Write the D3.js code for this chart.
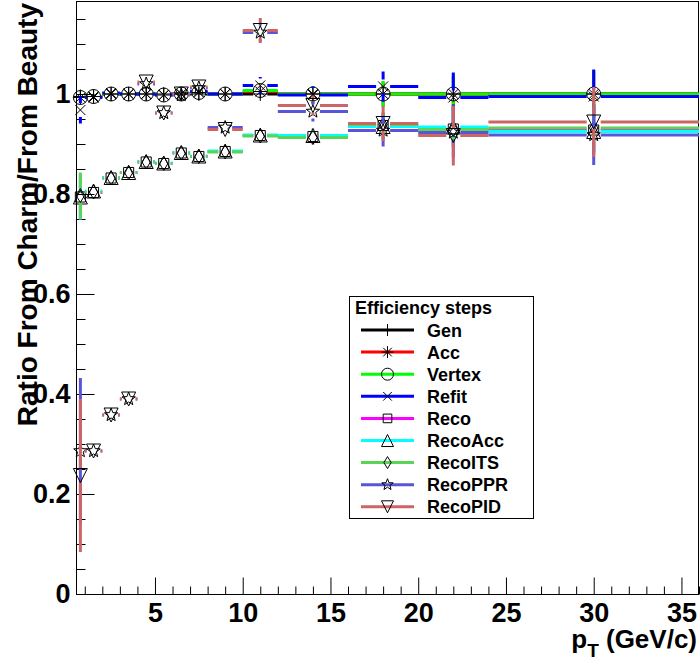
<!DOCTYPE html>
<html>
<head>
<meta charset="utf-8">
<script src="https://cdnjs.cloudflare.com/ajax/libs/d3/7.8.5/d3.min.js"></script>
<style>
body { margin: 0; background: #fff; }
svg text { font-family: "Liberation Sans", Arial, Helvetica, sans-serif; font-weight: bold; fill: #000; }
</style>
</head>
<body>
<div id="vis"></div>
<script>

// pT bins (centre and half width, GeV/c)
var ptCenters    = [0.75, 1.5, 2.5, 3.5, 4.5, 5.5, 6.5, 7.5, 9, 11, 14, 18, 22, 30];
var ptHalfWidths = [0.25, 0.5, 0.5, 0.5, 0.5, 0.5, 0.5, 0.5, 1, 1, 2, 2, 2, 6];

var stepNames = ["Gen", "Acc", "Vertex", "Refit", "Reco", "RecoAcc", "RecoITS", "RecoPPR", "RecoPID"];

// ratio charm / beauty for each efficiency step
var genRatio     = [0.995, 0.995, 1.0, 1.0, 1.0, 1.0, 1.0, 1.0, 1.0, 1.0, 1.0, 1.0, 1.0, 1.0];
var accRatio     = [0.993, 0.995, 1.0, 1.0, 1.0, 0.998, 1.0, 1.003, 1.0, 1.005, 1.0, 1.0, 1.0, 1.0];
var vertexRatio  = [0.993, 0.995, 1.0, 1.0, 1.0, 0.998, 1.0, 1.003, 1.0, 1.007, 1.0, 1.0, 1.0, 1.0];
var refitRatio   = [0.968, 0.993, 1.002, 1.0, 1.0, 0.998, 1.0, 1.005, 1.0, 1.017, 0.998, 1.015, 0.993, 0.995];
var recoRatio    = [0.794, 0.803, 0.832, 0.843, 0.864, 0.861, 0.882, 0.875, 0.885, 0.917, 0.915, 0.937, 0.930, 0.928];
var recoAccRatio = [0.794, 0.806, 0.833, 0.843, 0.865, 0.862, 0.883, 0.876, 0.886, 0.918, 0.917, 0.935, 0.934, 0.925];
var recoITSRatio = [0.797, 0.804, 0.832, 0.843, 0.864, 0.861, 0.882, 0.875, 0.884, 0.916, 0.913, 0.939, 0.929, 0.932];
var recoPPRRatio = [0.286, 0.286, 0.358, 0.39, 1.02, 0.962, 0.998, 1.012, 0.933, 1.123, 0.965, 0.927, 0.923, 0.918];
var recoPIDRatio = [0.237, 0.286, 0.358, 0.39, 1.024, 0.962, 1.0, 1.014, 0.929, 1.127, 0.977, 0.941, 0.917, 0.944];

// statistical errors
var genErr     = [0, 0, 0, 0, 0, 0, 0, 0, 0, 0, 0, 0, 0, 0];
var accErr     = [0.01, 0.006, 0.005, 0.005, 0.005, 0.005, 0.006, 0.006, 0.007, 0.01, 0.015, 0.025, 0.035, 0.045];
var vertexErr  = [0.012, 0.007, 0.006, 0.006, 0.006, 0.006, 0.007, 0.007, 0.008, 0.012, 0.016, 0.026, 0.04, 0.048];
var refitErr   = [0.027, 0.008, 0.007, 0.007, 0.007, 0.007, 0.008, 0.008, 0.009, 0.017, 0.017, 0.03, 0.05, 0.054];
var recoErr    = [0.045, 0.012, 0.008, 0.008, 0.008, 0.008, 0.009, 0.009, 0.009, 0.012, 0.015, 0.025, 0.035, 0.045];
var recoAccErr = [0.045, 0.012, 0.008, 0.008, 0.008, 0.008, 0.009, 0.009, 0.009, 0.012, 0.015, 0.025, 0.035, 0.045];
var recoITSErr = [0.046, 0.012, 0.008, 0.008, 0.008, 0.008, 0.009, 0.009, 0.009, 0.012, 0.015, 0.025, 0.035, 0.045];
var recoPPRErr = [0.146, 0.008, 0.008, 0.008, 0.01, 0.01, 0.01, 0.01, 0.01, 0.018, 0.02, 0.032, 0.05, 0.06];
var recoPIDErr = [0.153, 0.008, 0.008, 0.008, 0.01, 0.01, 0.01, 0.012, 0.012, 0.025, 0.02, 0.035, 0.06, 0.07];

var stepValues = [genRatio, accRatio, vertexRatio, refitRatio, recoRatio, recoAccRatio, recoITSRatio, recoPPRRatio, recoPIDRatio];
var stepErrors = [genErr, accErr, vertexErr, refitErr, recoErr, recoAccErr, recoITSErr, recoPPRErr, recoPIDErr];

var yTickValues = [0, 0.2, 0.4, 0.6, 0.8, 1];
var yTickLabels = ["0", "0.2", "0.4", "0.6", "0.8", "1"];
var xTickValues = [5, 10, 15, 20, 25, 30, 35];
var xTickLabels = ["5", "10", "15", "20", "25", "30", "35"];

// ROOT style colours and markers
var stepColors  = ["#000000", "#ff0000", "#00ff00", "#0000ff", "#ff00ff", "#00ffff", "#59d454", "#5954d8", "#cc6666"];
var stepMarkers = ["plus", "asterisk", "circle", "cross", "square", "triangle", "diamond", "star", "triangleDown"];

var svg = d3.select("#vis")
.append("svg")
.attr("width", 700)
.attr("height", 664);

var x = d3.scaleLinear().domain([0.5, 36]).range([76, 699]);
var y = d3.scaleLinear().domain([0, 1.184]).range([594, 2]);

// axes, ticks pointing into the frame
var minorY = d3.range(0, 1.19, 0.05).filter(function(d){ return Math.abs(d * 5 - Math.round(d * 5)) > 1e-6; });
var minorX = d3.range(1, 36.01, 1).filter(function(d){ return d % 5 !== 0; });

svg.append("g")
.attr("transform", "translate(76.5,0)")
.call(d3.axisLeft(y).tickValues(minorY).tickFormat("").tickSizeInner(-9).tickSizeOuter(0));

svg.append("g")
.attr("class", "yaxis")
.attr("transform", "translate(76.5,0)")
.call(d3.axisLeft(y).tickValues(yTickValues)
  .tickFormat(function(d, i){ return yTickLabels[i]; })
  .tickSizeInner(-18).tickSizeOuter(0).tickPadding(6));

svg.append("g")
.attr("transform", "translate(0,594.5)")
.call(d3.axisBottom(x).tickValues(minorX).tickFormat("").tickSizeInner(-8).tickSizeOuter(0));

svg.append("g")
.attr("class", "xaxis")
.attr("transform", "translate(0,594.5)")
.call(d3.axisBottom(x).tickValues(xTickValues)
  .tickFormat(function(d, i){ return xTickLabels[i]; })
  .tickSizeInner(-17).tickSizeOuter(0).tickPadding(8));

svg.selectAll(".domain").remove();
svg.selectAll(".tick line").attr("stroke", "#000").attr("stroke-width", 1);
svg.selectAll(".yaxis text, .xaxis text").style("font-size", "27px");

// frame
svg.append("rect")
.attr("x", 76.5)
.attr("y", 1.5)
.attr("width", 622)
.attr("height", 593)
.attr("fill", "none")
.attr("stroke", "#000")
.attr("stroke-width", 1);

// axis titles
svg.append("text")
.attr("transform", "translate(37,3) rotate(-90)")
.attr("text-anchor", "end")
.style("font-size", "28px")
.text("Ratio From Charm/From Beauty");

var xTitle = svg.append("text")
.attr("x", 697)
.attr("y", 648)
.attr("text-anchor", "end")
.style("font-size", "26px");
xTitle.append("tspan").text("p");
xTitle.append("tspan").attr("dy", 9).style("font-size", "19px").text("T");
xTitle.append("tspan").attr("dy", -9).text(" (GeV/c)");

function markerPath(type, r) {
  var d = r * 0.72;
  switch (type) {
    case "plus": return "M" + (-r) + ",0H" + r + "M0," + (-r) + "V" + r;
    case "asterisk": return "M" + (-r) + ",0H" + r + "M0," + (-r) + "V" + r +
      "M" + (-d) + "," + (-d) + "L" + d + "," + d + "M" + (-d) + "," + d + "L" + d + "," + (-d);
    case "circle": return "M" + r + ",0A" + r + "," + r + " 0 1,1 " + (-r) + ",0A" + r + "," + r + " 0 1,1 " + r + ",0Z";
    case "cross": return "M" + (-d) + "," + (-d) + "L" + d + "," + d + "M" + (-d) + "," + d + "L" + d + "," + (-d);
    case "square": return "M" + (-d) + "," + (-d) + "H" + d + "V" + d + "H" + (-d) + "Z";
    case "triangle": return "M0," + (-r) + "L" + r + "," + r + "L" + (-r) + "," + r + "Z";
    case "triangleDown": return "M0," + r + "L" + r + "," + (-r) + "L" + (-r) + "," + (-r) + "Z";
    case "diamond": return "M0," + (-r) + "L" + (r * 0.6) + ",0L0," + r + "L" + (-r * 0.6) + ",0Z";
    case "star":
      var pts = [];
      for (var k = 0; k < 10; k++) {
        var rad = k % 2 === 0 ? r : r * 0.42;
        var a = -Math.PI / 2 + k * Math.PI / 5;
        pts.push((rad * Math.cos(a)).toFixed(2) + "," + (rad * Math.sin(a)).toFixed(2));
      }
      return "M" + pts.join("L") + "Z";
  }
}

var markerR = 7, gap = 7;

// one layer per step, error bars first and markers on top (ROOT order)
stepValues.forEach(function(vals, s) {
  var errs = stepErrors[s];
  var segs = [];
  ptCenters.forEach(function(c, i) {
    var px = x(c), py = y(vals[i]);
    var xl = x(c - ptHalfWidths[i]), xr = x(c + ptHalfWidths[i]);
    if (px - gap > xl) segs.push([xl, py, px - gap, py]);
    if (xr > px + gap) segs.push([px + gap, py, xr, py]);
    var yt = y(vals[i] + errs[i]), yb = y(vals[i] - errs[i]);
    if (py - gap > yt) segs.push([px, yt, px, py - gap]);
    if (yb > py + gap) segs.push([px, py + gap, px, yb]);
  });

  var layer = svg.append("g").attr("class", "step-" + stepNames[s]);

  layer.selectAll("line")
  .data(segs)
  .enter()
  .append("line")
  .attr("x1", function(d){ return d[0]; })
  .attr("y1", function(d){ return d[1]; })
  .attr("x2", function(d){ return d[2]; })
  .attr("y2", function(d){ return d[3]; })
  .attr("stroke", stepColors[s])
  .attr("stroke-width", 3);

  layer.selectAll("path")
  .data(vals)
  .enter()
  .append("path")
  .attr("transform", function(d, i){ return "translate(" + x(ptCenters[i]) + "," + y(d) + ")"; })
  .attr("d", markerPath(stepMarkers[s], markerR))
  .attr("fill", "none")
  .attr("stroke", "#000")
  .attr("stroke-width", 1);
});

// legend
var legend = svg.append("g");

legend.append("rect")
.attr("x", 349.5)
.attr("y", 296.5)
.attr("width", 184)
.attr("height", 222)
.attr("fill", "#fff")
.attr("stroke", "#000")
.attr("stroke-width", 1);

legend.append("text")
.attr("x", 355)
.attr("y", 314)
.style("font-size", "18px")
.text("Efficiency steps");

var rows = legend.selectAll(".row")
.data(stepNames)
.enter()
.append("g")
.attr("class", "row")
.attr("transform", function(d, i){ return "translate(0," + (330 + i * 22.1) + ")"; });

rows.append("line")
.attr("x1", 361)
.attr("x2", 414)
.attr("stroke", function(d, i){ return stepColors[i]; })
.attr("stroke-width", 3);

rows.append("path")
.attr("transform", "translate(387.5,0)")
.attr("d", function(d, i){ return markerPath(stepMarkers[i], 6); })
.attr("fill", "none")
.attr("stroke", "#000")
.attr("stroke-width", 1);

rows.append("text")
.attr("x", 427)
.attr("y", 6.5)
.style("font-size", "18px")
.text(function(d){ return d; });

</script>
</body>
</html>
